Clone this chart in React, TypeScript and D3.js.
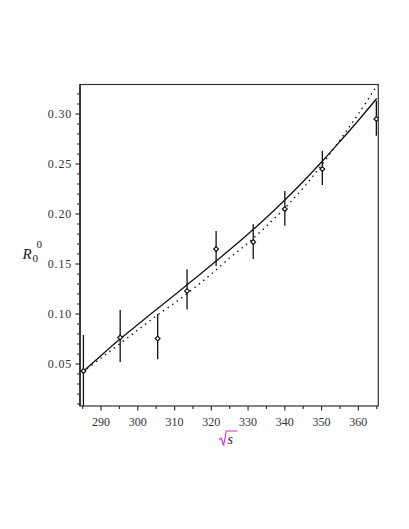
import React from "react";
import * as d3 from "d3";

const W = 409;
const H = 529;

// measured data points (sqrt(s), R_0^0) with error bars
const pointX = [285.2, 295.2, 305.4, 313.4, 321.3, 331.4, 340.0, 350.2, 364.9];
const pointY = [0.043, 0.0765, 0.0755, 0.123, 0.165, 0.172, 0.205, 0.245, 0.295];
const errLow = [0.006, 0.052, 0.0547, 0.1045, 0.148, 0.155, 0.1883, 0.229, 0.2783];
const errHigh = [0.079, 0.104, 0.1, 0.1447, 0.183, 0.1897, 0.223, 0.2633, 0.3133];

// solid fit curve
const solidX = [285, 290, 295, 300, 305, 310, 315, 320, 325, 330, 335, 340, 345, 350, 355, 360, 365];
const solidY = [0.042, 0.0585, 0.0745, 0.0895, 0.1043, 0.119, 0.134, 0.149, 0.1642, 0.18, 0.1965, 0.214, 0.2325, 0.252, 0.2725, 0.2935, 0.3155];

// dotted fit curve
const dottedX = [285, 290, 295, 300, 305, 310, 315, 320, 325, 330, 335, 340, 345, 350, 355, 360, 365];
const dottedY = [0.042, 0.056, 0.07, 0.084, 0.098, 0.111, 0.125, 0.14, 0.156, 0.171, 0.188, 0.206, 0.226, 0.249, 0.274, 0.3, 0.328];

const xMajorTicks = [290, 300, 310, 320, 330, 340, 350, 360];
const xMinorTicks = [285, 295, 305, 315, 325, 335, 345, 355, 365];
const yMajorTicks = [0.05, 0.1, 0.15, 0.2, 0.25, 0.3];
const yMinorTicks = [0.01, 0.02, 0.03, 0.04, 0.06, 0.07, 0.08, 0.09, 0.11, 0.12, 0.13, 0.14, 0.16, 0.17, 0.18, 0.19, 0.21, 0.22, 0.23, 0.24, 0.26, 0.27, 0.28, 0.29, 0.31, 0.32];

const left = 80;
const right = 378.3;
const top = 84.5;
const bottom = 406;

export default function App() {
  const x = d3.scaleLinear().domain([284.27, 365.43]).range([left, right]);
  const y = d3.scaleLinear().domain([0.008, 0.3295]).range([bottom, top]);

  const line = d3
    .line<[number, number]>()
    .x((d) => x(d[0]))
    .y((d) => y(d[1]))
    .curve(d3.curveCatmullRom.alpha(0.5));

  const solid = line(solidX.map((v, i) => [v, solidY[i]]) as [number, number][]) || "";
  const dotted = line(dottedX.map((v, i) => [v, dottedY[i]]) as [number, number][]) || "";

  const font = "'Liberation Serif', 'Times New Roman', serif";
  const frame = "#333";

  return (
    <svg
      width={W}
      height={H}
      style={{ position: "absolute", left: 0, top: 0, background: "#fff" }}
    >
      <defs>
        <clipPath id="plotClip">
          <rect x={left} y={top} width={right - left} height={bottom - top} />
        </clipPath>
      </defs>

      {/* frame */}
      <rect x={left} y={top} width={right - left} height={bottom - top} fill="none" stroke={frame} strokeWidth={1.2} />
      <line x1={left} x2={left} y1={top} y2={bottom} stroke={frame} strokeWidth={1.8} />

      {/* y ticks */}
      {yMajorTicks.map((t) => (
        <g key={"ym" + t}>
          <line x1={left - 4.5} x2={left} y1={y(t)} y2={y(t)} stroke={frame} strokeWidth={1.2} />
          <text
            x={72}
            y={y(t) + 4}
            textAnchor="end"
            fontFamily={font}
            fontSize={12}
            letterSpacing={0.8}
            fill="#333"
          >
            {t.toFixed(2)}
          </text>
        </g>
      ))}
      {yMinorTicks.map((t) => (
        <line key={"yn" + t} x1={left - 2.8} x2={left} y1={y(t)} y2={y(t)} stroke={frame} strokeWidth={1.2} />
      ))}

      {/* x ticks */}
      {xMajorTicks.map((t) => (
        <g key={"xm" + t}>
          <line x1={x(t)} x2={x(t)} y1={bottom} y2={bottom + 4.5} stroke={frame} strokeWidth={1.2} />
          <text
            x={x(t)}
            y={426}
            textAnchor="middle"
            fontFamily={font}
            fontSize={12}
            fill="#333"
          >
            {t}
          </text>
        </g>
      ))}
      {xMinorTicks.map((t) => (
        <line key={"xn" + t} x1={x(t)} x2={x(t)} y1={bottom} y2={bottom + 3} stroke={frame} strokeWidth={1.2} />
      ))}

      <g clipPath="url(#plotClip)">
        {/* error bars */}
        {pointX.map((px, i) => (
          <line
            key={"e" + i}
            x1={x(px)}
            x2={x(px)}
            y1={y(errLow[i])}
            y2={y(errHigh[i])}
            stroke="#111"
            strokeWidth={1.3}
          />
        ))}
        {/* curves */}
        <path d={dotted} fill="none" stroke="#111" strokeWidth={1.4} strokeDasharray="1.4 4.2" />
        <path d={solid} fill="none" stroke="#111" strokeWidth={1.3} />
        {/* markers */}
        {pointX.map((px, i) => {
          const cx = x(px);
          const cy = y(pointY[i]);
          const r = 2.4;
          return (
            <path
              key={"p" + i}
              d={`M${cx},${cy - r}L${cx + r},${cy}L${cx},${cy + r}L${cx - r},${cy}Z`}
              fill="#fff"
              stroke="#111"
              strokeWidth={1.2}
            />
          );
        })}
      </g>

      {/* y axis label R_0^0 */}
      <text fontFamily={font} fill="#222">
        <tspan x={22.5} y={259} fontSize={15} fontStyle="italic">R</tspan>
        <tspan x={32.5} y={262} fontSize={11}>0</tspan>
        <tspan x={36.5} y={248} fontSize={11}>0</tspan>
      </text>

      {/* x axis label sqrt(s) */}
      <path d="M219,439.5 L221.2,438 L223.6,445.5 L226.3,431 L237.5,431" fill="none" stroke="#e020e0" strokeWidth={1.1} />
      <text x={227.5} y={444} fontFamily={font} fontSize={14} fontStyle="italic" fill="#222">
        s
      </text>
    </svg>
  );
}
